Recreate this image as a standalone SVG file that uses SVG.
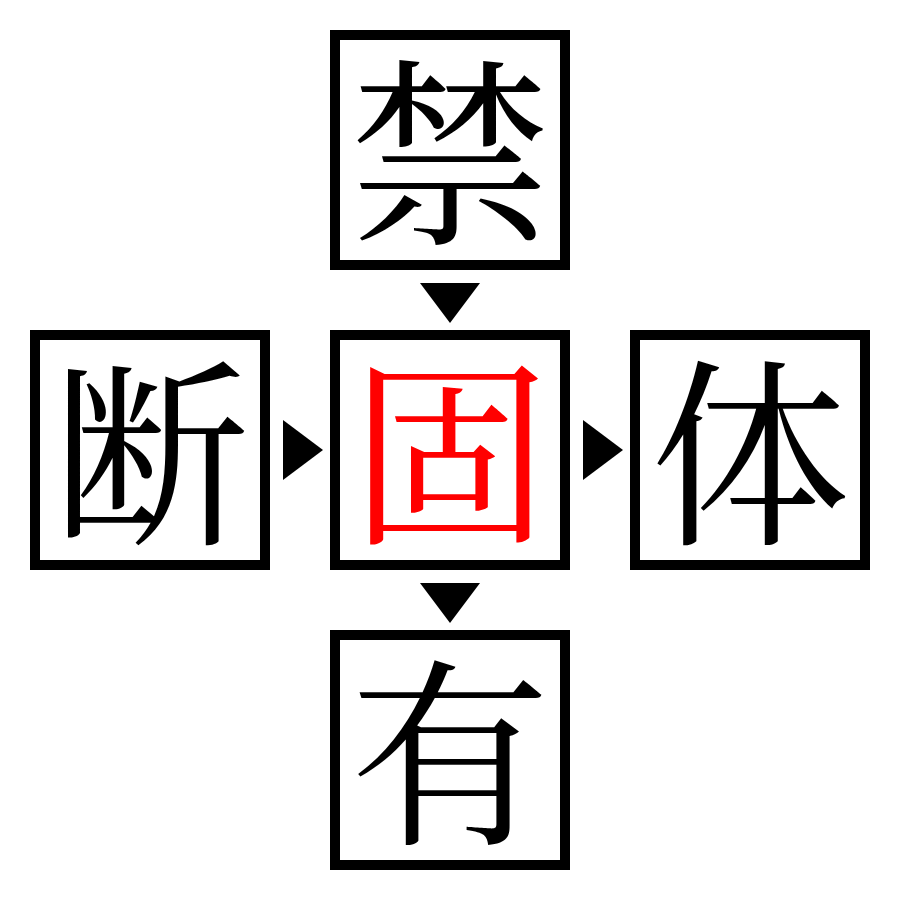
<svg xmlns="http://www.w3.org/2000/svg" width="900" height="900" viewBox="0 0 900 900">
<style>
.box{fill:#fff;stroke:#000;stroke-width:10}
.t{font-family:"Noto Serif CJK JP","Noto Sans CJK JP",serif;font-size:200px;text-anchor:middle;dominant-baseline:central;fill:#000}
.arr{fill:#000}
</style>
<rect width="900" height="900" fill="#fff"/>
<g id="top"><rect class="box" x="335" y="35" width="230" height="230"/><text class="t" x="450" y="142">禁</text></g>
<g id="left"><rect class="box" x="35" y="335" width="230" height="230"/><text class="t" x="150" y="442">断</text></g>
<g id="center"><rect class="box" x="335" y="335" width="230" height="230"/><text class="t" x="450" y="442" style="fill:#f00">固</text></g>
<g id="right"><rect class="box" x="635" y="335" width="230" height="230"/><text class="t" x="750" y="442">体</text></g>
<g id="bottom"><rect class="box" x="335" y="635" width="230" height="230"/><text class="t" x="450" y="742">有</text></g>
<g id="connectors">
<polygon class="arr" points="420,283 480,283 450,323"/>
<polygon class="arr" points="283,420 283,480 323,450"/>
<polygon class="arr" points="583,420 583,480 623,450"/>
<polygon class="arr" points="420,583 480,583 450,623"/>
</g>
</svg>
